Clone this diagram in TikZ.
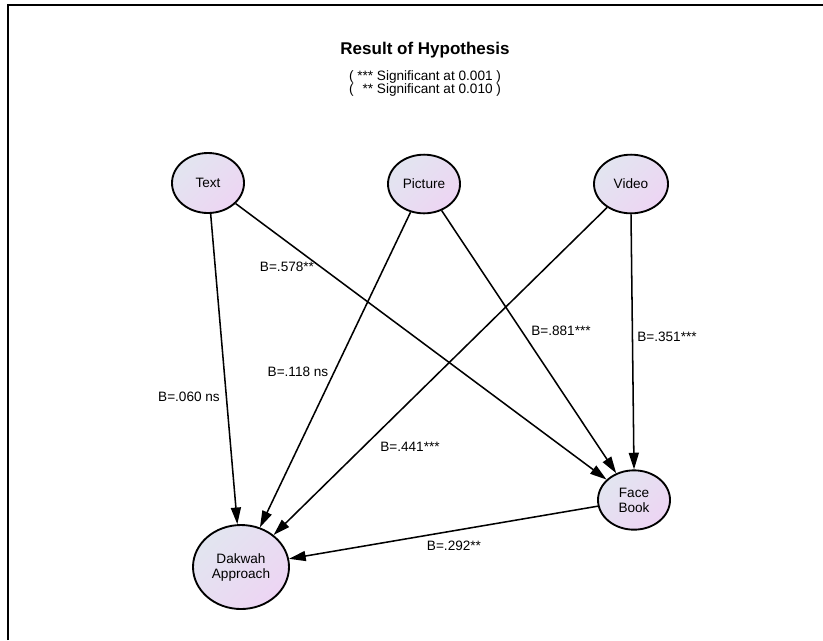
\documentclass[tikz,border=0pt]{standalone}
\usepackage{fontspec}
\setmainfont{Liberation Sans}
\usetikzlibrary{shapes.geometric,arrows.meta}
\definecolor{ctl}{RGB}{226,229,240}
\definecolor{cbr}{RGB}{237,213,243}
\begin{document}
\begin{tikzpicture}[x=0.75pt,y=-0.75pt,
  var/.style={ellipse, draw=black, line width=1.4pt, top color=ctl, bottom color=cbr, shading angle=45,
    inner sep=0pt, align=center, font=\fontsize{10.2}{11.25}\selectfont},
  conn/.style={draw=black, line width=1.15pt, -{Triangle[length=12.5pt,width=7.5pt]}},
  lbl/.style={inner sep=0pt, font=\fontsize{10.2}{12}\selectfont}
]
\useasboundingbox (0,0) rectangle (823,640);
\draw[line width=1.5pt] (8,640) -- (8,5) -- (823,5);

\node (title) at (425,50) {\fontsize{12.75}{14}\selectfont\bfseries Result of Hypothesis};
\node[align=center, inner sep=0pt, font=\fontsize{10.2}{9.75}\selectfont] (sub) at (425,83.5)
  {( *** Significant at 0.001 )\\(\hphantom{*} ** Significant at 0.010 )};

\node[var, minimum width=54pt, minimum height=45pt] (text) at (208,183) {Text};
\node[var, minimum width=54pt, minimum height=44pt] (picture) at (424,184) {Picture};
\node[var, minimum width=55.5pt, minimum height=44pt] (video) at (631,184) {Video};
\node[var, minimum width=54pt, minimum height=44.5pt] (fb) at (634,500) {Face\\Book};
\node[var, minimum width=72pt, minimum height=63pt] (dakwah) at (241,567) {Dakwah\\Approach};

\draw[conn] (text) -- (dakwah);
\draw[conn] (text) -- (fb);
\draw[conn] (picture) -- (dakwah);
\draw[conn] (picture) -- (fb);
\draw[conn] (video) -- (dakwah);
\draw[conn] (video.south) -- (fb.north);
\draw[conn] (fb) -- (dakwah);

\node[lbl] (l1) at (287,267) {B=.578**};
\node[lbl] (l2) at (189,397) {B=.060 ns};
\node[lbl] (l3) at (298,372) {B=.118 ns};
\node[lbl] (l4) at (561,331) {B=.881***};
\node[lbl] (l5) at (667,337) {B=.351***};
\node[lbl] (l6) at (410,447) {B=.441***};
\node[lbl] (l7) at (454,546) {B=.292**};
\end{tikzpicture}
\end{document}
